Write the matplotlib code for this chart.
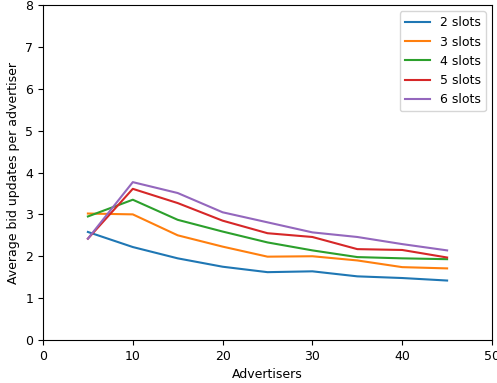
import matplotlib
matplotlib.use("Agg")
import matplotlib.pyplot as plt

advertisers = [5, 10, 15, 20, 25, 30, 35, 40, 45]
slots_2 = [2.58, 2.22, 1.95, 1.75, 1.62, 1.64, 1.52, 1.48, 1.42]
slots_3 = [3.02, 3.00, 2.50, 2.23, 1.99, 2.00, 1.90, 1.74, 1.71]
slots_4 = [2.95, 3.35, 2.87, 2.59, 2.33, 2.14, 1.98, 1.95, 1.93]
slots_5 = [2.42, 3.61, 3.27, 2.85, 2.55, 2.46, 2.17, 2.15, 1.97]
slots_6 = [2.42, 3.77, 3.51, 3.05, 2.81, 2.57, 2.46, 2.29, 2.14]

plt.rcParams["font.size"] = 9

fig = plt.figure(figsize=(4.97, 3.83), dpi=100)
ax = fig.add_axes([43 / 497, 1 - 340 / 383, 449 / 497, 335 / 383])

ax.plot(advertisers, slots_2, label="2 slots")
ax.plot(advertisers, slots_3, label="3 slots")
ax.plot(advertisers, slots_4, label="4 slots")
ax.plot(advertisers, slots_5, label="5 slots")
ax.plot(advertisers, slots_6, label="6 slots")

ax.set_xlim(0, 50)
ax.set_ylim(0, 8)
ax.set_xlabel("Advertisers")
ax.set_ylabel("Average bid updates per advertiser")
ax.legend(loc="upper right")

fig.savefig("out.png", dpi=100)
